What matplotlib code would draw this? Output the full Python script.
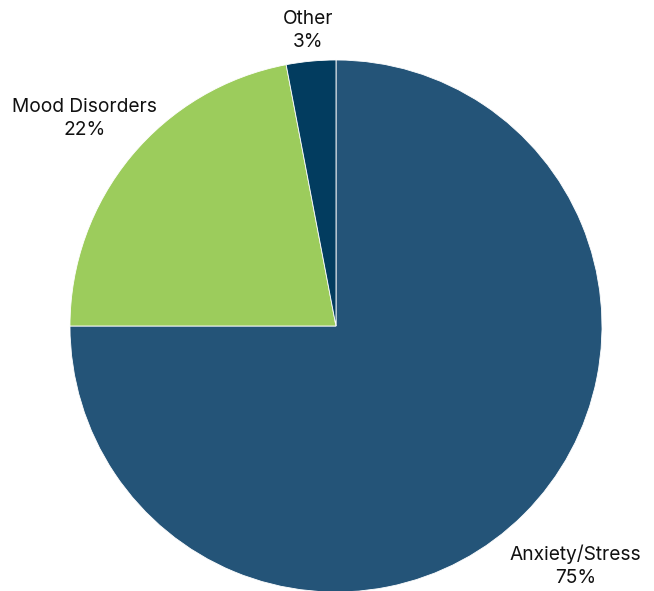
import numpy as np
import matplotlib.pyplot as plt

plt.rcParams['font.family'] = ['Inter', 'DejaVu Sans']

categories = ['Anxiety/Stress', 'Mood Disorders', 'Other']
shares = [75, 22, 3]
colors = ['#245478', '#9ccc5c', '#023c5f']
label_dist = [1.275, 1.225, 1.115]

fig = plt.figure(figsize=(6.54, 5.91), dpi=100)
ax = fig.add_axes([0.107, -0.0017, 0.8135, 0.9002])

wedges, _ = ax.pie(shares, colors=colors, startangle=90, counterclock=False,
                   wedgeprops=dict(edgecolor='white', linewidth=0.6))

# put the labels at each wedge's middle angle
total = sum(shares)
start = 90.0
for name, val, d in zip(categories, shares, label_dist):
    sweep = 360.0 * val / total
    mid = np.deg2rad(start - sweep / 2)
    start -= sweep
    ax.text(d * np.cos(mid), d * np.sin(mid), f'{name}\n{val}%',
            ha='center', va='center', fontsize=13.8, linespacing=1.38,
            color='#111111')

ax.set_xlim(-1, 1)
ax.set_ylim(-1, 1)
ax.set_aspect('auto')
ax.axis('off')

fig.savefig('out.png', dpi=100)
